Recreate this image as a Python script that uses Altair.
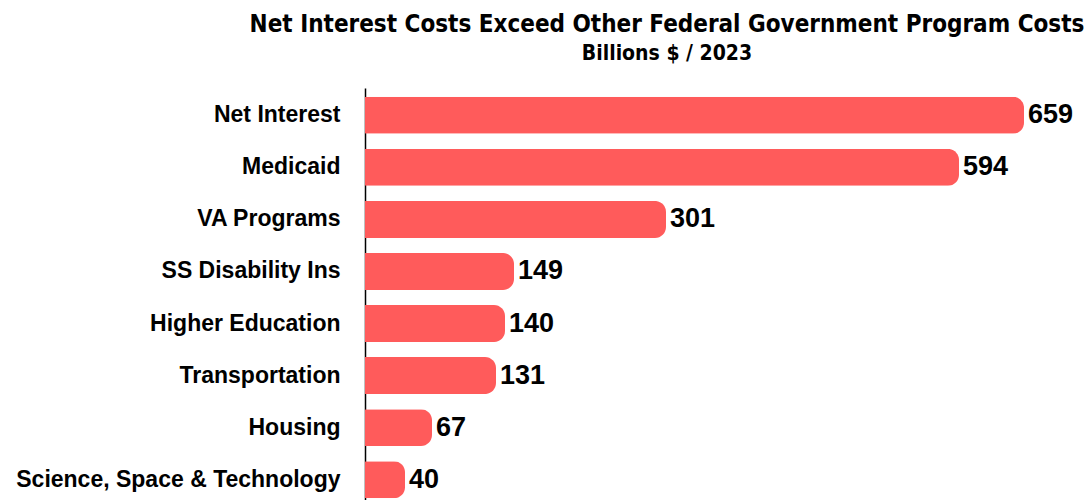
import altair as alt
import pandas as pd

categories = ["Net Interest", "Medicaid", "VA Programs", "SS Disability Ins",
              "Higher Education", "Transportation", "Housing",
              "Science, Space & Technology"]
values = [659, 594, 301, 149, 140, 131, 67, 40]

df = pd.DataFrame({"category": categories, "value": values})

base = alt.Chart(df).encode(
    y=alt.Y("category:N", sort=categories, title=None,
            scale=alt.Scale(paddingInner=0.29, paddingOuter=0.17, range=[0, 419]),
            axis=alt.Axis(ticks=False, labelPadding=25, labelFontSize=23,
                          labelFontWeight="bold", labelFont="Liberation Sans",
                          labelColor="black", domainColor="black",
                          domainWidth=1.5, labelLimit=400)),
    x=alt.X("value:Q", title=None,
            scale=alt.Scale(domain=[0, 722], nice=False, zero=True),
            axis=None),
)

bars = base.mark_bar(color="#FF5B5B", cornerRadiusEnd=11)
labels = base.mark_text(align="left", baseline="middle", dx=4, fontSize=27,
                        fontWeight="bold", font="Liberation Sans",
                        color="black").encode(text="value:Q")

chart = (bars + labels).properties(
    width=722, height=412,
    autosize=alt.AutoSizeParams(type="none"),
    padding={"left": 365, "top": 88, "right": 0, "bottom": 0},
    title=alt.TitleParams(
        text="Net Interest Costs Exceed Other Federal Government Program Costs",
        subtitle="Billions $ / 2023",
        anchor="middle", dx=-59, offset=24,
        font="DejaVu Sans Condensed", fontSize=24, fontWeight="bold",
        color="black",
        subtitleFont="DejaVu Sans Condensed", subtitleFontSize=21,
        subtitleFontWeight="bold", subtitleColor="black", subtitlePadding=6,
    ),
).configure_view(stroke=None)

chart.save("out.html", embed_options={"renderer": "svg", "actions": False})
